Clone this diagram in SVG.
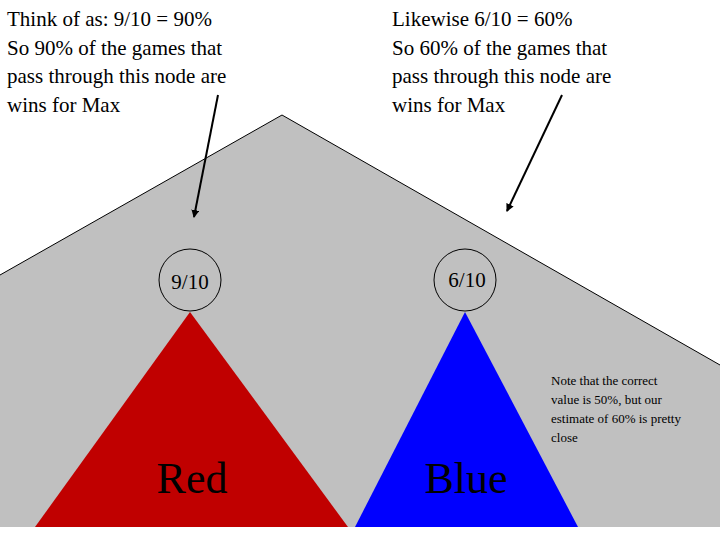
<svg xmlns="http://www.w3.org/2000/svg" width="720" height="540" viewBox="0 0 720 540">
<style>
text{font-family:"Liberation Serif",serif;fill:#000}
.t{font-size:21px}
.c{fill:#c0c0c0;stroke:#000;stroke-width:1}
</style>
<defs><marker id="a" markerWidth="8" markerHeight="8" refX="7" refY="4" orient="auto" markerUnits="userSpaceOnUse"><path d="M0,0 L8,4 L0,8 z" fill="#000"/></marker></defs>
<rect width="720" height="540" fill="#fff"/>
<g id="tree"><polygon points="282,115 720,365 720,527 0,527 0,275" fill="#c0c0c0"/>
<polyline points="0,275 282,115 720,365" fill="none" stroke="#000"/></g>
<g id="red"><polygon points="190,312 35,527 348,527" fill="#c00000"/><text x="192" y="493" font-size="44" text-anchor="middle">Red</text></g>
<g id="blue"><polygon points="465,312 355,527 578,527" fill="#0000ff"/><text x="466" y="493" font-size="44" text-anchor="middle">Blue</text></g>
<g id="n1"><circle class="c" cx="190" cy="280" r="31"/><text class="t" x="190" y="289" text-anchor="middle">9/10</text></g>
<g id="n2"><circle class="c" cx="465" cy="280" r="31"/><text class="t" x="467" y="287" text-anchor="middle">6/10</text></g>
<g id="connectors" stroke="#000" stroke-width="2">
<line x1="218" y1="95" x2="194" y2="217" marker-end="url(#a)"/>
<line x1="562" y1="95" x2="507" y2="211" marker-end="url(#a)"/>
</g>
<g id="note1" class="t"><text x="7" y="26">Think of as: 9/10 = 90%</text><text x="7" y="55">So 90% of the games that</text><text x="7" y="83">pass through this node are</text><text x="7" y="112">wins for Max</text></g>
<g id="note2" class="t"><text x="392" y="26">Likewise 6/10 = 60%</text><text x="392" y="55">So 60% of the games that</text><text x="392" y="83">pass through this node are</text><text x="392" y="112">wins for Max</text></g>
<g id="note3" font-size="13"><text x="551" y="385">Note that the correct</text><text x="551" y="404">value is 50%, but our</text><text x="551" y="423">estimate of 60% is pretty</text><text x="551" y="442">close</text></g>
</svg>
